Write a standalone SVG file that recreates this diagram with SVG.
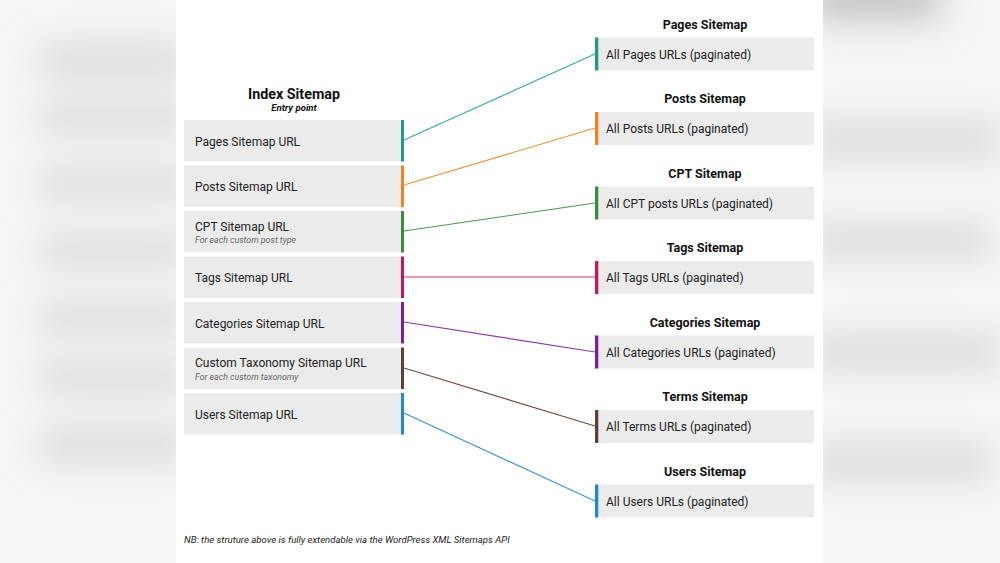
<svg xmlns="http://www.w3.org/2000/svg" width="1000" height="563" viewBox="0 0 1000 563">
<defs>
<filter id="blur" x="-50%" y="-50%" width="200%" height="200%"><feGaussianBlur stdDeviation="18"/></filter>
<style>
.lbox{fill:#ebebeb}
.lt{font-family:Roboto,"Liberation Sans",sans-serif;font-size:12px;fill:#222}
.sub{font-family:Roboto,"Liberation Sans",sans-serif;font-size:8.8px;font-style:italic;fill:#666}
.rt{font-family:Roboto,"Liberation Sans",sans-serif;font-size:12px;fill:#222}
.ttl{font-family:Roboto,"Liberation Sans",sans-serif;font-size:12.5px;font-weight:bold;fill:#111;text-anchor:middle}
.conn{fill:none;stroke-width:1.1}
</style>
</defs>
<rect width="1000" height="563" fill="#f5f5f5"/>
<g filter="url(#blur)" fill="#d4d4d4">
<rect x="40" y="48" width="150" height="26"/>
<rect x="40" y="106" width="150" height="24"/>
<rect x="40" y="172" width="150" height="24"/>
<rect x="40" y="239" width="150" height="24"/>
<rect x="40" y="306" width="150" height="24"/>
<rect x="40" y="366" width="150" height="24"/>
<rect x="40" y="432" width="150" height="26"/>
<rect x="810" y="-30" width="130" height="50" fill="#c4c4c4"/>
<rect x="810" y="126" width="190" height="28"/>
<rect x="810" y="228" width="180" height="26"/>
<rect x="810" y="338" width="190" height="28"/>
<rect x="810" y="448" width="180" height="28"/>
</g>
<rect x="176" y="0" width="647" height="563" fill="#ffffff"/>

<g id="connectors">
<line class="conn" x1="404" y1="140" x2="595" y2="54" stroke="#3aa79c"/>
<line class="conn" x1="404" y1="185" x2="595" y2="128" stroke="#ef8e33"/>
<line class="conn" x1="404" y1="231" x2="595" y2="203" stroke="#4a9a55"/>
<line class="conn" x1="404" y1="277" x2="595" y2="277" stroke="#c9366f"/>
<line class="conn" x1="404" y1="322" x2="595" y2="352" stroke="#8a3aa6"/>
<line class="conn" x1="404" y1="368" x2="595" y2="426" stroke="#6a4b42"/>
<line class="conn" x1="404" y1="413" x2="595" y2="501" stroke="#3a8fcf"/>
</g>

<g id="index-title">
<text x="294" y="99" class="ttl" style="font-size:14.3px">Index Sitemap</text>
<text x="294" y="110.5" class="ttl" style="font-size:9.6px;font-style:italic">Entry point</text>
</g>

<g id="n-pages-url"><rect class="lbox" x="184" y="120" width="217" height="41.5"/><rect x="401" y="120" width="3" height="41.5" fill="#1f9a8c"/><text class="lt" x="195" y="145.5">Pages Sitemap URL</text></g>
<g id="n-posts-url"><rect class="lbox" x="184" y="165.5" width="217" height="41.5"/><rect x="401" y="165.5" width="3" height="41.5" fill="#ef8221"/><text class="lt" x="195" y="190.5">Posts Sitemap URL</text></g>
<g id="n-cpt-url"><rect class="lbox" x="184" y="211" width="217" height="41.5"/><rect x="401" y="211" width="3" height="41.5" fill="#388e3c"/><text class="lt" x="195" y="230.5">CPT Sitemap URL</text><text class="sub" x="195" y="243">For each custom post type</text></g>
<g id="n-tags-url"><rect class="lbox" x="184" y="256.5" width="217" height="41.5"/><rect x="401" y="256.5" width="3" height="41.5" fill="#c2185b"/><text class="lt" x="195" y="282">Tags Sitemap URL</text></g>
<g id="n-categories-url"><rect class="lbox" x="184" y="302" width="217" height="41.5"/><rect x="401" y="302" width="3" height="41.5" fill="#7b1fa2"/><text class="lt" x="195" y="327.5">Categories Sitemap URL</text></g>
<g id="n-taxonomy-url"><rect class="lbox" x="184" y="347.5" width="217" height="41.5"/><rect x="401" y="347.5" width="3" height="41.5" fill="#5d4037"/><text class="lt" x="195" y="367">Custom Taxonomy Sitemap URL</text><text class="sub" x="195" y="379.5">For each custom taxonomy</text></g>
<g id="n-users-url"><rect class="lbox" x="184" y="393" width="217" height="41.5"/><rect x="401" y="393" width="3" height="41.5" fill="#1e88d0"/><text class="lt" x="195" y="418.5">Users Sitemap URL</text></g>

<g id="n-pages"><text class="ttl" x="705" y="28.5">Pages Sitemap</text><rect class="lbox" x="595" y="37.5" width="219" height="33"/><rect x="595" y="37.5" width="3.3" height="33" fill="#1f9a8c"/><text class="rt" x="606" y="58.5">All Pages URLs (paginated)</text></g>
<g id="n-posts"><text class="ttl" x="705" y="103">Posts Sitemap</text><rect class="lbox" x="595" y="112" width="219" height="33"/><rect x="595" y="112" width="3.3" height="33" fill="#ef8221"/><text class="rt" x="606" y="133">All Posts URLs (paginated)</text></g>
<g id="n-cpt"><text class="ttl" x="705" y="177.5">CPT Sitemap</text><rect class="lbox" x="595" y="186.5" width="219" height="33"/><rect x="595" y="186.5" width="3.3" height="33" fill="#388e3c"/><text class="rt" x="606" y="207.5">All CPT posts URLs (paginated)</text></g>
<g id="n-tags"><text class="ttl" x="705" y="252">Tags Sitemap</text><rect class="lbox" x="595" y="261" width="219" height="33"/><rect x="595" y="261" width="3.3" height="33" fill="#c2185b"/><text class="rt" x="606" y="282">All Tags URLs (paginated)</text></g>
<g id="n-categories"><text class="ttl" x="705" y="326.5">Categories Sitemap</text><rect class="lbox" x="595" y="335.5" width="219" height="33"/><rect x="595" y="335.5" width="3.3" height="33" fill="#7b1fa2"/><text class="rt" x="606" y="356.5">All Categories URLs (paginated)</text></g>
<g id="n-terms"><text class="ttl" x="705" y="401">Terms Sitemap</text><rect class="lbox" x="595" y="410" width="219" height="33"/><rect x="595" y="410" width="3.3" height="33" fill="#5d4037"/><text class="rt" x="606" y="431">All Terms URLs (paginated)</text></g>
<g id="n-users"><text class="ttl" x="705" y="475.5">Users Sitemap</text><rect class="lbox" x="595" y="484.5" width="219" height="33"/><rect x="595" y="484.5" width="3.3" height="33" fill="#1e88d0"/><text class="rt" x="606" y="505.5">All Users URLs (paginated)</text></g>

<text x="184" y="543" style="font-family:Roboto,'Liberation Sans',sans-serif;font-size:9.6px;font-style:italic;fill:#222">NB: the struture above is fully extendable via the WordPress XML Sitemaps API</text>
</svg>
